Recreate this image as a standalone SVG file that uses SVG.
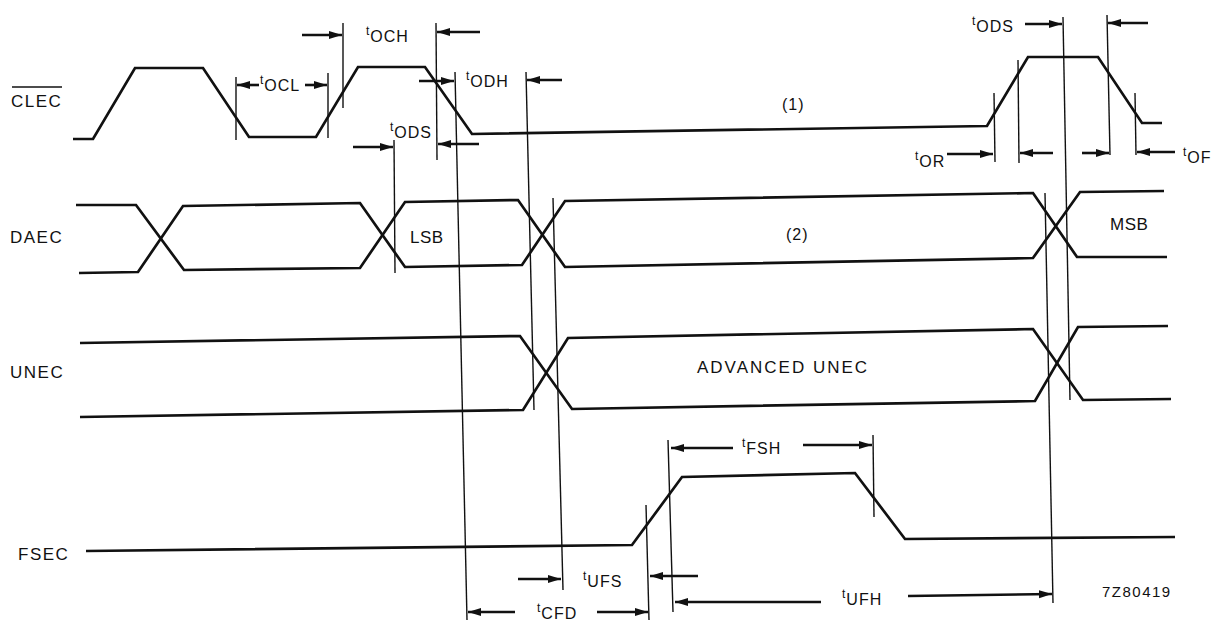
<svg xmlns="http://www.w3.org/2000/svg" width="1218" height="624" viewBox="0 0 1218 624">
<style>
.w{fill:none;stroke:#111;stroke-width:2.7;stroke-linejoin:miter}
.m{fill:none;stroke:#111;stroke-width:1.4}
.a{fill:none;stroke:#111;stroke-width:2.6;marker-end:url(#ah)}
.lb{font-family:"Liberation Sans",Arial,sans-serif;font-size:17px;letter-spacing:1.5px;fill:#111}
.tx{font-family:"Liberation Sans",Arial,sans-serif;font-size:16px;letter-spacing:1px;fill:#111}
.t{font-size:12px}
</style>
<defs>
<marker id="ah" markerUnits="userSpaceOnUse" markerWidth="14" markerHeight="10" refX="13" refY="5" orient="auto">
<path d="M0,1 L13,5 L0,9 Z" fill="#111"/>
</marker>
</defs>
<rect width="1218" height="624" fill="#fff"/>

<g id="clec">
<text class="lb" x="11" y="107">CLEC</text>
<line x1="12" y1="87" x2="62" y2="87" stroke="#111" stroke-width="1.6"/>
<path class="w" d="M73,139 L93,139 L135,68 L203,68 L249,137 L316,137 L358,67 L425,67 L472,134 L987,126 L1028,57 L1098,57 L1142,123 L1162,123"/>
<text class="tx" x="782" y="110">(1)</text>
</g>

<g id="daec">
<text class="lb" x="10" y="243">DAEC</text>
<path class="w" d="M76,205 L136,205 L184,270 L360,268 L405,202 L518,200 L565,267 L1033,258 L1080,192 L1164,191"/>
<path class="w" d="M79,273 L138,272 L183,206 L360,203 L405,267 L522,265 L565,201 L1033,193 L1077,257 L1167,257"/>
<text class="tx" x="410" y="243" style="font-size:17px;letter-spacing:0.5px">LSB</text>
<text class="tx" x="786" y="240">(2)</text>
<text class="tx" x="1110" y="230" style="font-size:17px;letter-spacing:0.5px">MSB</text>
</g>

<g id="unec">
<text class="lb" x="10" y="378">UNEC</text>
<path class="w" d="M80,343 L520,336 L572,409 L1035,401 L1078,327 L1168,326"/>
<path class="w" d="M80,417 L523,410 L568,338 L1033,329 L1083,400 L1171,399"/>
<text class="lb" x="697" y="373" style="letter-spacing:2px">ADVANCED UNEC</text>
</g>

<g id="fsec">
<text class="lb" x="18" y="560">FSEC</text>
<path class="w" d="M86,551 L632,545 L682,477 L855,473 L905,539 L1175,537"/>
</g>

<g id="markers">
<line class="m" x1="236" y1="77" x2="236" y2="140"/>
<line class="m" x1="328" y1="73" x2="328" y2="138"/>
<line class="m" x1="343" y1="23" x2="343" y2="108"/>
<line class="m" x1="436" y1="23" x2="437" y2="160"/>
<line class="m" x1="394" y1="140" x2="395" y2="273"/>
<line class="m" x1="455" y1="72" x2="467" y2="620"/>
<line class="m" x1="526" y1="72" x2="534" y2="410"/>
<line class="m" x1="553" y1="198" x2="563" y2="590"/>
<line class="m" x1="646" y1="505" x2="649" y2="620"/>
<line class="m" x1="668" y1="440" x2="673" y2="612"/>
<line class="m" x1="873" y1="435" x2="874" y2="517"/>
<line class="m" x1="1045" y1="193" x2="1053" y2="603"/>
<line class="m" x1="1063" y1="17" x2="1070" y2="400"/>
<line class="m" x1="1107" y1="15" x2="1110" y2="155"/>
<line class="m" x1="994" y1="93" x2="995" y2="162"/>
<line class="m" x1="1018" y1="60" x2="1019" y2="163"/>
<line class="m" x1="1135" y1="93" x2="1136" y2="155"/>
</g>

<g id="connectors">
<line class="a" x1="259" y1="85" x2="237" y2="85"/>
<line class="a" x1="305" y1="85" x2="327" y2="85"/>
<line class="a" x1="302" y1="35" x2="342" y2="35"/>
<line class="a" x1="480" y1="32" x2="437" y2="32"/>
<line class="a" x1="419" y1="81" x2="454" y2="81"/>
<line class="a" x1="562" y1="80" x2="527" y2="80"/>
<line class="a" x1="353" y1="147" x2="393" y2="147"/>
<line class="a" x1="479" y1="144" x2="438" y2="144"/>
<line class="a" x1="1025" y1="24" x2="1062" y2="24"/>
<line class="a" x1="1148" y1="23" x2="1108" y2="23"/>
<line class="a" x1="947" y1="154" x2="993" y2="154"/>
<line class="a" x1="1053" y1="153" x2="1020" y2="153"/>
<line class="a" x1="1082" y1="153" x2="1109" y2="153"/>
<line class="a" x1="1175" y1="152" x2="1137" y2="152"/>
<line class="a" x1="733" y1="448" x2="671" y2="448"/>
<line class="a" x1="803" y1="445" x2="872" y2="445"/>
<line class="a" x1="518" y1="579" x2="561" y2="579"/>
<line class="a" x1="698" y1="576" x2="650" y2="576"/>
<line class="a" x1="515" y1="612" x2="468" y2="612"/>
<line class="a" x1="597" y1="612" x2="648" y2="612"/>
<line class="a" x1="821" y1="602" x2="675" y2="602"/>
<line class="a" x1="908" y1="596" x2="1052" y2="594"/>
</g>

<g id="labels">
<text class="tx" x="260" y="91"><tspan class="t" dy="-7">t</tspan><tspan dy="7">OCL</tspan></text>
<text class="tx" x="366" y="42"><tspan class="t" dy="-7">t</tspan><tspan dy="7">OCH</tspan></text>
<text class="tx" x="466" y="87"><tspan class="t" dy="-7">t</tspan><tspan dy="7">ODH</tspan></text>
<text class="tx" x="390" y="138"><tspan class="t" dy="-7">t</tspan><tspan dy="7">ODS</tspan></text>
<text class="tx" x="972" y="32"><tspan class="t" dy="-7">t</tspan><tspan dy="7">ODS</tspan></text>
<text class="tx" x="915" y="167"><tspan class="t" dy="-7">t</tspan><tspan dy="7">OR</tspan></text>
<text class="tx" x="1183" y="163"><tspan class="t" dy="-7">t</tspan><tspan dy="7">OF</tspan></text>
<text class="tx" x="583" y="587"><tspan class="t" dy="-7">t</tspan><tspan dy="7">UFS</tspan></text>
<text class="tx" x="537" y="619"><tspan class="t" dy="-7">t</tspan><tspan dy="7">CFD</tspan></text>
<text class="tx" x="742" y="454"><tspan class="t" dy="-7">t</tspan><tspan dy="7">FSH</tspan></text>
<text class="tx" x="842" y="605"><tspan class="t" dy="-7">t</tspan><tspan dy="7">UFH</tspan></text>
<text class="tx" x="1102" y="597" style="font-size:15px;letter-spacing:1.5px">7Z80419</text>
</g>
</svg>
